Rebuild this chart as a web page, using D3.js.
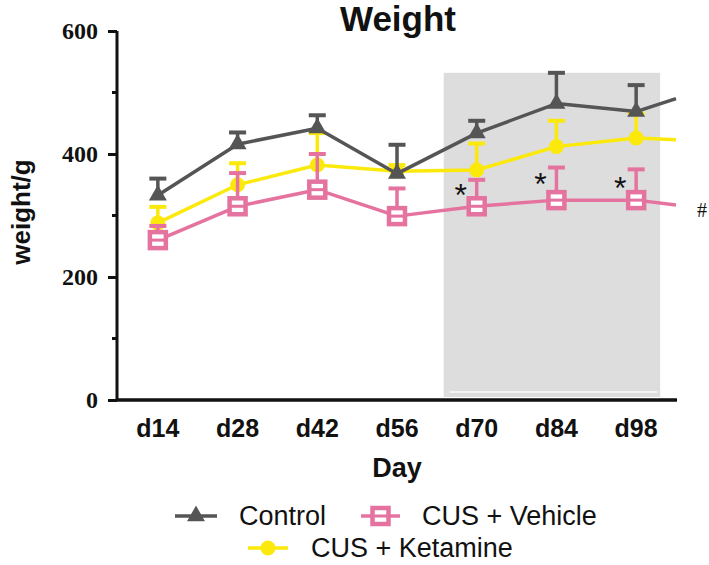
<!DOCTYPE html>
<html><head><meta charset="utf-8">
<script src="https://cdn.jsdelivr.net/npm/d3@7/dist/d3.min.js"></script>
<style>body{margin:0;background:#fff}svg{display:block}</style>
</head><body><svg id="c" width="709" height="565"></svg>
<script>
const days = ["d14","d28","d42","d56","d70","d84","d98"];
const controlMean = [333, 416, 442, 368, 434, 482, 469];
const controlErr  = [27, 19, 21, 47, 20, 50, 43];
const controlTail = 490;
const vehicleMean = [260, 315, 342, 299, 315, 325, 325];
const vehicleErr  = [23, 54, 58, 45, 43, 53, 50];
const vehicleTail = 317;
const ketamineMean = [288, 350, 382, 372, 374, 412, 426];
const ketamineErr  = [26, 35, 52, 10, 43, 42, 40];
const ketamineTail = 423;
const yTicks = [0, 200, 400, 600];
const yMinorTicks = [100, 300, 500];
const shadedDays = ["d70","d98"];
const shadedTop = 532;
const starDays = ["d70","d84","d98"];
const starValues = [343, 361, 355];
const hashValue = 309;

const svg = d3.select("#c");
const x = d3.scaleBand().domain(days).range([118, 676]).padding(0);
const xc = d => x(d) + x.bandwidth()/2;
const y = d3.scaleLinear().domain([0, 600]).range([400, 31]);
const SANS = "'Liberation Sans', Arial, sans-serif";
const SERIF = "'Liberation Serif', 'Times New Roman', serif";

const colors = {control:"#555555", vehicle:"#e5739f", ketamine:"#fce90c"};

// shaded region
svg.append("rect")
  .attr("x", xc(shadedDays[0]) - 33)
  .attr("y", y(shadedTop))
  .attr("width", xc(shadedDays[1]) + 24 - (xc(shadedDays[0]) - 33))
  .attr("height", y(0) - 3 - y(shadedTop))
  .attr("fill", "#dddddd");
svg.append("line")
  .attr("x1", xc(shadedDays[0]) - 27).attr("x2", xc(shadedDays[1]) + 21)
  .attr("y1", y(0) - 8).attr("y2", y(0) - 8)
  .attr("stroke", "#fafafa").attr("stroke-width", 1.5);

// title
svg.append("text").attr("x", 398).attr("y", 31).attr("text-anchor","middle")
  .attr("font-family", SANS).attr("font-weight","bold").attr("font-size", 35)
  .attr("fill","#111").text("Weight");

// y axis
const yAxis = svg.append("g").attr("transform","translate(117,0)")
  .call(d3.axisLeft(y).tickValues(yTicks).tickSize(9).tickPadding(10).tickFormat(d3.format("d")));
yAxis.select(".domain").attr("stroke","#111").attr("stroke-width",3)
  .attr("d", `M0,${y(600)}V${y(0)}`);
yAxis.selectAll(".tick line").attr("stroke","#111").attr("stroke-width",3);
yAxis.selectAll(".tick text").attr("font-family", SERIF).attr("font-weight","bold")
  .attr("font-size", 24).attr("fill","#111");
yAxis.selectAll(".minor").data(yMinorTicks).enter().append("line")
  .attr("x1",-5).attr("x2",0).attr("y1",d=>y(d)).attr("y2",d=>y(d))
  .attr("stroke","#111").attr("stroke-width",3);

// x axis
const xAxis = svg.append("g").attr("transform","translate(0,400)")
  .call(d3.axisBottom(x).tickSize(0).tickPadding(25));
xAxis.select(".domain").attr("stroke","#111").attr("stroke-width",3.5)
  .attr("d","M116,0H677");
xAxis.selectAll(".tick text").attr("font-family", SANS).attr("font-weight","bold")
  .attr("font-size", 25).attr("fill","#111").attr("dy", 0).attr("y", 37);

svg.append("text").attr("x", 397).attr("y", 477).attr("text-anchor","middle")
  .attr("font-family", SANS).attr("font-weight","bold").attr("font-size", 27)
  .attr("fill","#111").text("Day");

svg.append("text").attr("transform","translate(30,212) rotate(-90)")
  .attr("text-anchor","middle").attr("font-family", SANS).attr("font-weight","bold")
  .attr("font-size", 26).attr("fill","#111").text("weight/g");

// series
const series = [
  {key:"ketamine", mean:ketamineMean, err:ketamineErr, tail:ketamineTail, marker:"circle"},
  {key:"vehicle", mean:vehicleMean, err:vehicleErr, tail:vehicleTail, marker:"square"},
  {key:"control", mean:controlMean, err:controlErr, tail:controlTail, marker:"triangle"}
];
const line = d3.line().x(d=>d[0]).y(d=>d[1]);

function drawMarker(g, type, cx, cy, col) {
  if (type === "circle") {
    g.append("circle").attr("cx",cx).attr("cy",cy).attr("r",7.5).attr("fill",col);
  } else if (type === "square") {
    g.append("rect").attr("x",cx-8).attr("y",cy-8).attr("width",16).attr("height",16)
      .attr("fill","#fff").attr("stroke",col).attr("stroke-width",4.5);
    g.append("line").attr("x1",cx-8).attr("x2",cx+8).attr("y1",cy).attr("y2",cy)
      .attr("stroke",col).attr("stroke-width",3);
  } else {
    g.append("path").attr("d", d3.symbol().type(d3.symbolTriangle).size(140)())
      .attr("transform",`translate(${cx},${cy})`).attr("fill",col);
  }
}

series.forEach(s => {
  const col = colors[s.key];
  const g = svg.append("g");
  const pts = days.map((d,i)=>[xc(d), y(s.mean[i])]);
  pts.push([x.range()[1], y(s.tail)]);
  days.forEach((d,i)=>{
    const cx = xc(d), top = y(s.mean[i] + s.err[i]);
    g.append("line").attr("x1",cx).attr("x2",cx).attr("y1",y(s.mean[i])).attr("y2",top)
      .attr("stroke",col).attr("stroke-width",3.5);
    g.append("line").attr("x1",cx-8.5).attr("x2",cx+8.5).attr("y1",top).attr("y2",top)
      .attr("stroke",col).attr("stroke-width",4);
  });
  g.append("path").attr("d", line(pts)).attr("fill","none").attr("stroke",col)
    .attr("stroke-width",3.5).attr("stroke-linejoin","round");
  days.forEach((d,i)=> drawMarker(g, s.marker, xc(d), y(s.mean[i]), col));
});

// annotations
starDays.forEach((d,i)=>{
  svg.append("text").attr("x", xc(d) - 16).attr("y", y(starValues[i]) + 17)
    .attr("text-anchor","middle").attr("font-family", SANS).attr("font-size", 32)
    .attr("fill","#111").text("*");
});
svg.append("text").attr("x", 702).attr("y", y(hashValue) + 7).attr("text-anchor","middle")
  .attr("font-family", SERIF).attr("font-size", 20).attr("fill","#111").text("#");

// legend
const legend = [
  {key:"control", label:"Control", marker:"triangle", x0:175, x1:217, tx:239, row:0},
  {key:"vehicle", label:"CUS + Vehicle", marker:"square", x0:361, x1:400, tx:422, row:0},
  {key:"ketamine", label:"CUS + Ketamine", marker:"circle", x0:248, x1:288, tx:311, row:1}
];
const rowY = [516, 548];
legend.forEach(l=>{
  const col = colors[l.key], cy = rowY[l.row];
  const g = svg.append("g");
  g.append("line").attr("x1",l.x0).attr("x2",l.x1).attr("y1",cy).attr("y2",cy)
    .attr("stroke",col).attr("stroke-width",3.5);
  drawMarker(g, l.marker, (l.x0+l.x1)/2, cy, col);
  g.append("text").attr("x",l.tx).attr("y",cy+9).attr("font-family",SANS)
    .attr("font-size",27).attr("fill","#111").text(l.label);
});
</script></body></html>
